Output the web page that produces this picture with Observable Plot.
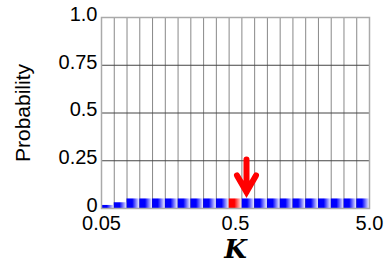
<!DOCTYPE html>
<html><head><meta charset="utf-8">
<script src="https://cdn.jsdelivr.net/npm/d3@7"></script>
<script src="https://cdn.jsdelivr.net/npm/@observablehq/plot@0.6"></script>
<style>body{margin:0;background:#fff}</style>
</head><body><div id="chart"></div>
<script>
// ---- data ----
const kMin = 0.05, kMax = 5.0;
const probability = [0.016, 0.03, 0.05, 0.05, 0.05, 0.05, 0.05, 0.05, 0.05, 0.05,
                     0.05, 0.05, 0.05, 0.05, 0.05, 0.05, 0.05, 0.05, 0.05, 0.05, 0.05];
const highlightIndex = 10;
const arrowK = [0.604];
const arrowTip = [0.087];
const xTicks = [0.05, 0.5, 5.0];
const xTickLabels = ["0.05", "0.5", "5.0"];
const yTicks = [0, 0.25, 0.5, 0.75, 1.0];
const yTickLabels = ["0", "0.25", "0.5", "0.75", "1.0"];
const yGrid = [0.25, 0.5, 0.75];
const xLabel = ["K"];
const yLabel = ["Probability"];

// log-spaced bins between kMin and kMax
const n = probability.length;
const edges = d3.range(n + 1).map(i => kMin * Math.pow(kMax / kMin, i / n));
const bars = probability.map((p, i) => ({k1: edges[i], k2: edges[i + 1], p, hi: i === highlightIndex}));
const arrows = arrowK.map((k, i) => ({k, y: arrowTip[i]}));
const xTickData = xTicks.map((v, i) => ({v, label: xTickLabels[i]}));
const yTickData = yTicks.map((v, i) => ({v, label: yTickLabels[i]}));

const arrowSymbol = {
  draw(ctx) {
    const L = 32.5, w = 19, a = 30 * Math.PI / 180;
    ctx.moveTo(0, -L); ctx.lineTo(0, 0);
    ctx.moveTo(-w * Math.sin(a), -w * Math.cos(a));
    ctx.lineTo(0, 0);
    ctx.lineTo(w * Math.sin(a), -w * Math.cos(a));
  }
};

const svg = Plot.plot({
  width: 388, height: 264,
  marginLeft: 101, marginRight: 19, marginTop: 17, marginBottom: 56,
  style: {fontFamily: "Liberation Sans, Arial, sans-serif", fontSize: "20px", color: "#000", background: "#fff"},
  x: {type: "log", domain: [kMin, kMax], axis: null},
  y: {domain: [0, 1], axis: null},
  marks: [
    Plot.ruleX(edges, {stroke: "#888", strokeWidth: 1}),
    Plot.ruleY(yGrid, {stroke: "#444", strokeWidth: 1}),
    Plot.rect(bars.filter(d => !d.hi), {x1: "k1", x2: "k2", y1: 0, y2: "p", fill: "url(#gradBlue)"}),
    Plot.rect(bars.filter(d => d.hi), {x1: "k1", x2: "k2", y1: 0, y2: "p", fill: "url(#gradRed)"}),
    Plot.frame({stroke: "#aaa", strokeWidth: 1.5}),
    Plot.dot(arrows, {x: "k", y: "y", symbol: arrowSymbol, fill: "none", stroke: "#ff0000", strokeWidth: 6, strokeLinecap: "round", strokeLinejoin: "miter"}),
    Plot.text(xTickData, {x: "v", text: "label", frameAnchor: "bottom", lineAnchor: "top", dy: 7, fontSize: 20}),
    Plot.text(yTickData, {y: "v", text: "label", frameAnchor: "left", textAnchor: "end", dx: -4, dy: -3, fontSize: 20}),
    Plot.text(yLabel, {frameAnchor: "left", textAnchor: "middle", rotate: -90, dx: -78, fontSize: 21}),
    Plot.text(xLabel, {frameAnchor: "bottom", lineAnchor: "bottom", dy: 49, fontSize: 26, fontWeight: "bold", fontStyle: "italic", fontFamily: "DejaVu Serif, serif"})
  ]
});

const defs = d3.select(svg).insert("defs", ":first-child");
function grad(id, edge, main, end) {
  const g = defs.append("linearGradient").attr("id", id).attr("x1", "0").attr("x2", "1").attr("y1", "0").attr("y2", "0");
  g.append("stop").attr("offset", "0").attr("stop-color", edge);
  g.append("stop").attr("offset", "0.08").attr("stop-color", main);
  g.append("stop").attr("offset", "0.45").attr("stop-color", main);
  g.append("stop").attr("offset", "1").attr("stop-color", end);
}
grad("gradBlue", "#0000c8", "#0000ff", "#f2f2ff");
grad("gradRed", "#e00000", "#ff0000", "#fff0f0");

document.getElementById("chart").appendChild(svg);
</script>
</body></html>
